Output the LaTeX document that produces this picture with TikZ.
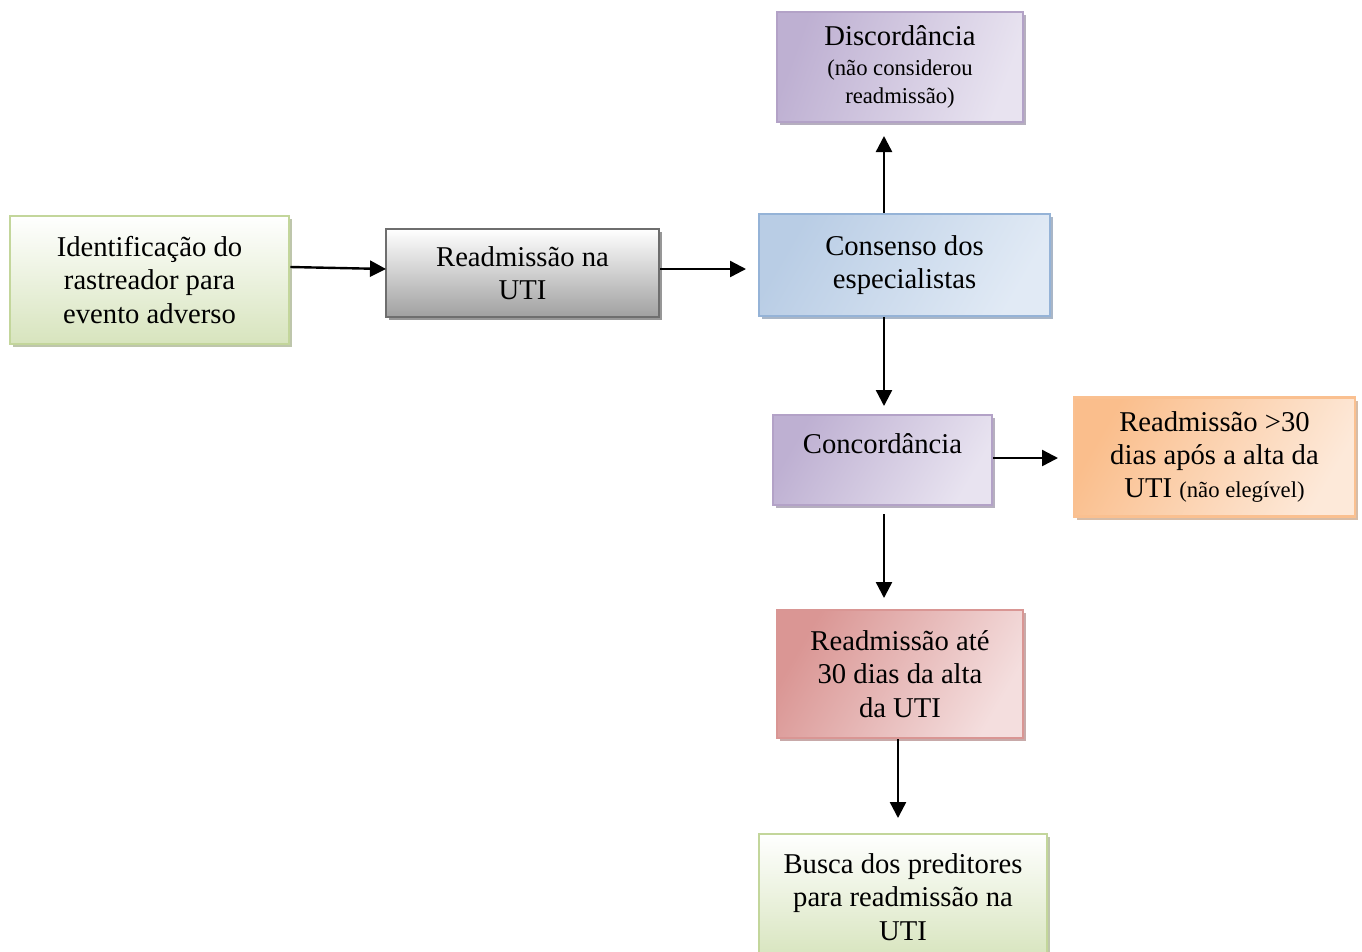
\documentclass[tikz,border=0pt]{standalone}
\usepackage{fontspec}
\setmainfont{Liberation Serif}
\usetikzlibrary{shadows,arrows.meta}
\definecolor{grnB}{RGB}{195,214,155}
\definecolor{grnF}{RGB}{215,228,189}
\definecolor{gryB}{RGB}{110,110,110}
\definecolor{gryF}{RGB}{160,160,160}
\definecolor{bluB}{RGB}{149,179,215}
\definecolor{bluF}{RGB}{185,205,229}
\definecolor{bluL}{RGB}{225,234,245}
\definecolor{purB}{RGB}{179,162,199}
\definecolor{purF}{RGB}{190,176,210}
\definecolor{purL}{RGB}{232,227,240}
\definecolor{orgB}{RGB}{250,192,144}
\definecolor{orgF}{RGB}{250,190,140}
\definecolor{orgL}{RGB}{253,233,217}
\definecolor{redB}{RGB}{217,150,148}
\definecolor{redF}{RGB}{218,150,148}
\definecolor{redL}{RGB}{244,222,222}
\tikzset{
  box/.style={draw=#1B, line width=2.2pt, align=center, inner sep=0pt,
    font=\fontsize{21.5pt}{25pt}\selectfont,
    drop shadow={shadow xshift=2.5pt, shadow yshift=-2.5pt, fill=#1B!75!black, opacity=0.6}},
  conn/.style={line width=1.8pt, -{Triangle[length=12pt,width=12pt]}}
}
\newcommand{\sm}{\fontsize{17pt}{21pt}\selectfont}
\begin{document}
\begin{tikzpicture}[x=0.75pt,y=-0.75pt]
\useasboundingbox (0,0) rectangle (1362,951);
\node[box=grn, minimum width=279*0.75pt, minimum height=128*0.75pt, top color=white, bottom color=grnF] (ident) at (149.5,280) {Identificação do\\rastreador para\\evento adverso};
\node[box=gry, minimum width=273*0.75pt, minimum height=88*0.75pt, top color=white, bottom color=gryF] (readm) at (522.5,273) {Readmissão na\\UTI};
\node[box=blu, minimum width=291*0.75pt, minimum height=102*0.75pt, shading=axis, left color=bluF, right color=bluL, shading angle=60] (cons) at (904.5,265) {Consenso dos\\especialistas};
\node[box=pur, minimum width=246*0.75pt, minimum height=110*0.75pt, shading=axis, left color=purF, right color=purL, shading angle=70] (disc) at (900,67) {Discordância\\[-3pt]{\sm (não considerou}\\[-4pt]{\sm readmissão)}};
\node[box=pur, minimum width=219*0.75pt, minimum height=90*0.75pt, shading=axis, left color=purF, right color=purL, shading angle=60] (conc) at (882.5,460) {Concordância\\\mbox{}};
\node[box=org, minimum width=281*0.75pt, minimum height=119*0.75pt, shading=axis, left color=orgF, right color=orgL, shading angle=60] (gt30) at (1214.5,457) {Readmissão >30\\dias após a alta da\\UTI {\sm (não elegível)}};
\node[box=red, minimum width=246*0.75pt, minimum height=128*0.75pt, shading=axis, left color=redF, right color=redL, shading angle=60] (ate) at (900,674) {Readmissão até\\30 dias da alta\\da UTI};
\node[box=grn, minimum width=288*0.75pt, minimum height=126*0.75pt, top color=white, bottom color=grnF] (busca) at (903,897) {Busca dos preditores\\para readmissão na\\UTI};
\coordinate (a1) at (386,269);
\coordinate (a2) at (746,269);
\coordinate (a3) at (884,136);
\coordinate (a4) at (884,406);
\coordinate (a5) at (1058,458);
\coordinate (a6s) at (884,514);
\coordinate (a6) at (884,598);
\coordinate (a7) at (898,818);
\draw[conn] (ident.east |- 0,267) -- (a1);
\draw[conn] (readm.east |- a2) -- (a2);
\draw[conn] (cons.north -| a3) -- (a3);
\draw[conn] (cons.south -| a4) -- (a4);
\draw[conn] (conc.east |- a5) -- (a5);
\draw[conn] (a6s) -- (a6);
\draw[conn] (ate.south -| a7) -- (a7);
\end{tikzpicture}
\end{document}
